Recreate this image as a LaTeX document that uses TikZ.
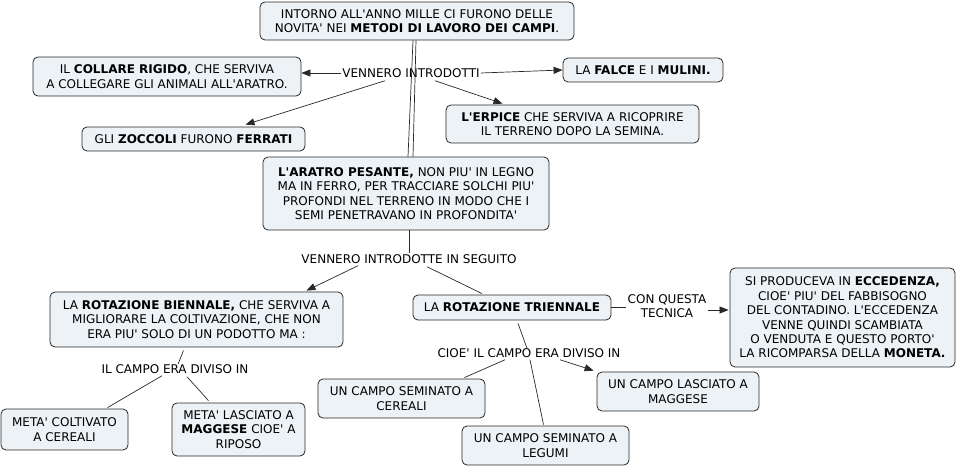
\documentclass[tikz,border=0pt]{standalone}
\usepackage{fontspec}
\newfontfamily\vf{DejaVu Sans}
\usetikzlibrary{arrows.meta,calc}
\definecolor{boxfill}{RGB}{236,242,245}
\definecolor{edge}{RGB}{40,40,40}
\begin{document}
\begin{tikzpicture}[x=1pt,y=-1pt,
  every node/.style={font=\vf\fontsize{12}{14.4}\selectfont, text=black},
  cbox/.style={draw=edge, line width=0.8pt, rounded corners=5pt, fill=boxfill, align=center, inner sep=2pt},
  lbl/.style={align=center, inner sep=1pt},
  conn/.style={draw=edge, line width=0.7pt},
  arr/.style={conn, -{Triangle[length=9pt,width=7pt]}}]
\useasboundingbox (0,0) rectangle (958,468);

% concepts
\node[cbox, minimum width=314, minimum height=38] (top) at (417,21) {INTORNO ALL'ANNO MILLE CI FURONO DELLE\\NOVITA' NEI \textbf{METODI DI LAVORO DEI CAMPI}.};
\node[cbox, minimum width=268, minimum height=39] (collare) at (167,76.5) {IL \textbf{COLLARE RIGIDO}, CHE SERVIVA\\A COLLEGARE GLI ANIMALI ALL'ARATRO.};
\node[cbox, minimum width=160, minimum height=24] (falce) at (643,70) {LA \textbf{FALCE} E I \textbf{MULINI.}};
\node[cbox, minimum width=223, minimum height=24] (zoccoli) at (193.5,139) {GLI \textbf{ZOCCOLI} FURONO \textbf{FERRATI}};
\node[cbox, minimum width=253, minimum height=38] (erpice) at (572.5,124) {\textbf{L'ERPICE} CHE SERVIVA A RICOPRIRE\\IL TERRENO DOPO LA SEMINA.};
\node[cbox, minimum width=286, minimum height=73] (aratro) at (406,193.5) {\textbf{L'ARATRO PESANTE,} NON PIU' IN LEGNO\\MA IN FERRO, PER TRACCIARE SOLCHI PIU'\\PROFONDI NEL TERRENO IN MODO CHE I\\SEMI PENETRAVANO IN PROFONDITA'};
\node[cbox, minimum width=293, minimum height=55] (biennale) at (196.5,319.5) {LA \textbf{ROTAZIONE BIENNALE,} CHE SERVIVA A\\MIGLIORARE LA COLTIVAZIONE, CHE NON\\ERA PIU' SOLO DI UN PODOTTO MA :};
\node[cbox, minimum width=198, minimum height=25] (triennale) at (512,307.5) {LA \textbf{ROTAZIONE TRIENNALE}};
\node[cbox, minimum width=225, minimum height=99] (eccedenza) at (842.5,317.5) {SI PRODUCEVA IN \textbf{ECCEDENZA,}\\CIOE' PIU' DEL FABBISOGNO\\DEL CONTADINO. L'ECCEDENZA\\VENNE QUINDI SCAMBIATA\\O VENDUTA E QUESTO PORTO'\\LA RICOMPARSA DELLA \textbf{MONETA.}};
\node[cbox, minimum width=127, minimum height=41] (meta1) at (64.5,429.5) {META' COLTIVATO\\A CEREALI};
\node[cbox, minimum width=133, minimum height=53] (meta2) at (238.5,429.5) {META' LASCIATO A\\\textbf{MAGGESE} CIOE' A\\RIPOSO};
\node[cbox, minimum width=167, minimum height=39] (cereali) at (401.5,398.5) {UN CAMPO SEMINATO A\\CEREALI};
\node[cbox, minimum width=162, minimum height=39] (maggese) at (678,391.5) {UN CAMPO LASCIATO A\\MAGGESE};
\node[cbox, minimum width=167, minimum height=39] (legumi) at (545.5,445.5) {UN CAMPO SEMINATO A\\LEGUMI};

% linking phrases
\node[lbl] (l1) at (411,73) {VENNERO INTRODOTTI};
\node[lbl] (l2) at (409,259) {VENNERO INTRODOTTE IN SEGUITO};
\node[lbl] (l3) at (667,306) {CON QUESTA\\TECNICA};
\node[lbl] (l4) at (175,369) {IL CAMPO ERA DIVISO IN};
\node[lbl] (l5) at (529,353) {CIOE' IL CAMPO ERA DIVISO IN};

% connectors
\draw[conn] ($(top.south)+(-4,0)$) -- ($(aratro.north)+(2,0)$);
\draw[conn] ($(top.south)+(-1,0)$) -- ($(aratro.north)+(7,0)$);
\draw[arr] (l1.west) -- (collare.east |- l1.west);
\draw[arr] (l1.east) -- (falce.west);
\draw[arr] ($(l1.south)+(-26,2)$) -- ($(zoccoli.north)+(52,-2)$);
\draw[arr] ($(l1.south)+(24,2)$) -- ($(erpice.north)+(-70,-1)$);
\draw[conn] ($(aratro.south)+(3,0)$) -- (l2.north);
\draw[arr] ($(l2.south)+(-51,1)$) -- ($(biennale.north)+(110,-1)$);
\draw[conn] ($(l2.south)+(18,2)$) -- ($(triennale.north)+(-30,-1)$);
\draw[conn] (triennale.east) -- (triennale.east -| l3.west);
\draw[arr] ($(l3.east)+(0,4)$) -- ($(eccedenza.west |- l3.east)+(-1,4)$);
\draw[conn] ($(biennale.south)+(-13,3)$) -- ($(l4.north)+(3,1)$);
\draw[conn] ($(l4.south)+(-13,1)$) -- ($(meta1.north)+(43,-1)$);
\draw[conn] ($(l4.south)+(12,2)$) -- ($(meta2.north)+(-30,-2)$);
\draw[conn] ($(triennale.south)+(6,3)$) -- ($(l5.north)+(-2,1)$);
\draw[conn] ($(l5.south)+(1,1)$) -- ($(legumi.north)+(-2,-1)$);
\draw[conn] ($(l5.south)+(-24,1)$) -- ($(cereali.north)+(63,-1)$);
\draw[arr] ($(l5.south)+(31,1)$) -- ($(maggese.north west)+(-3,-1)$);
\end{tikzpicture}
\end{document}
